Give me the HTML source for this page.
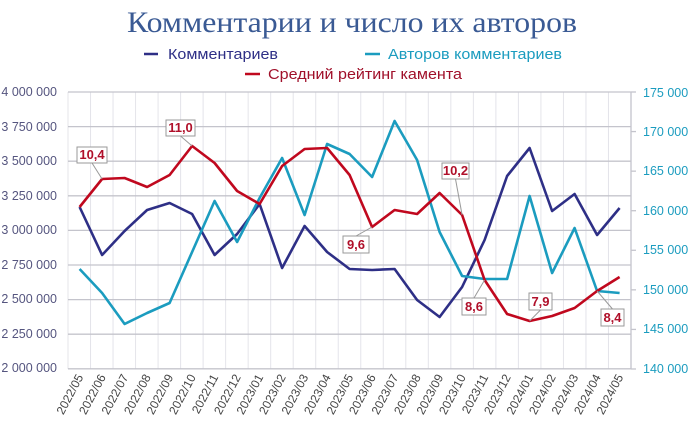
<!DOCTYPE html>
<html><head><meta charset="utf-8"><style>
html,body{margin:0;padding:0;background:#fff;width:700px;height:426px;overflow:hidden}
svg{display:block}
</style></head><body>
<svg id="s" width="700" height="426" xmlns="http://www.w3.org/2000/svg" font-family="'Liberation Sans', sans-serif">
<text x="352" y="32" text-anchor="middle" font-family="'Liberation Serif', serif" font-size="30" fill="#3a5a94" textLength="450" lengthAdjust="spacingAndGlyphs">Комментарии и число их авторов</text>
<line x1="144" y1="54" x2="158" y2="54" stroke="#2e2f86" stroke-width="2.5"/>
<text x="168" y="59" font-size="15" fill="#2e2f86" textLength="110" lengthAdjust="spacingAndGlyphs">Комментариев</text>
<line x1="365" y1="54" x2="380" y2="54" stroke="#1b9cbf" stroke-width="2.5"/>
<text x="388" y="59" font-size="15" fill="#1b9cbf" textLength="174" lengthAdjust="spacingAndGlyphs">Авторов комментариев</text>
<line x1="245" y1="74" x2="260" y2="74" stroke="#c0081e" stroke-width="2.5"/>
<text x="268" y="79" font-size="15" fill="#a0102a" textLength="194" lengthAdjust="spacingAndGlyphs">Средний рейтинг камента</text>
<g id="grid"></g>
<g font-size="12.5" fill="#55557f" text-anchor="end">
<text x="57" y="96">4 000 000</text><text x="57" y="131">3 750 000</text><text x="57" y="165">3 500 000</text><text x="57" y="200">3 250 000</text><text x="57" y="234">3 000 000</text><text x="57" y="269">2 750 000</text><text x="57" y="303">2 500 000</text><text x="57" y="338">2 250 000</text><text x="57" y="372">2 000 000</text>
</g>
<g font-size="12.5" fill="#1b9cbf">
<text x="643" y="97">175 000</text><text x="643" y="136">170 000</text><text x="643" y="175">165 000</text><text x="643" y="215">160 000</text><text x="643" y="254">155 000</text><text x="643" y="294">150 000</text><text x="643" y="333">145 000</text><text x="643" y="373">140 000</text>
</g>
<g id="xl" font-size="12" fill="#444" text-anchor="end"></g>
<g id="lines"></g>
<g id="lab"></g>
</svg>
<script>
var ns="http://www.w3.org/2000/svg",s=document.getElementById('s');
function el(p,t,a,txt){var e=document.createElementNS(ns,t);for(var k in a)e.setAttribute(k,a[k]);if(txt)e.textContent=txt;document.getElementById(p).appendChild(e);return e;}
var L=68,R=631,T=92,B=369;
for(var i=0;i<=25;i++){var x=L+22.52*i;el('grid','line',{x1:x,y1:T,x2:x,y2:B,stroke:'#e4e4ea','stroke-width':1});}
for(var j=0;j<9;j++){var y=T+j*34.6;el('grid','line',{x1:L,y1:y,x2:R,y2:y,stroke:'#c4c4cc','stroke-width':1.3});}
el('grid','line',{x1:R,y1:T,x2:R,y2:B,stroke:'#c4c4cc','stroke-width':1.3});
for(var j=0;j<8;j++){var y=T+j*39.57;el('grid','line',{x1:R,y1:y,x2:R+5,y2:y,stroke:'#c4c4cc','stroke-width':1.3});}
var labs=["2022/05","2022/06","2022/07","2022/08","2022/09","2022/10","2022/11","2022/12","2023/01","2023/02","2023/03","2023/04","2023/05","2023/06","2023/07","2023/08","2023/09","2023/10","2023/11","2023/12","2024/01","2024/02","2024/03","2024/04","2024/05"];
function X(i){return 79.6+22.5*i;}
labs.forEach(function(l,i){var x=X(i)+4,y=377;el('xl','text',{x:x,y:y,transform:'rotate(-62 '+x+' '+y+')'},l);});
var blue=[207,255,231,210,203,214,255,234,204,268,226,252,269,270,269,300,317,287,240,176,148,211,194,235,208];
var cyan=[269,293,324,313,303,252,201,242,198,158,215,144,154,177,121,160,232,276,279,279,196,273,228,291,293];
var red=[207,179,178,187,175,146,163,191,204,166,149,148,175,227,210,214,193,215,280,314,321,316,308,291,277];
function pl(d,c){el('lines','polyline',{points:d.map(function(y,i){return X(i)+','+y}).join(' '),fill:'none',stroke:c,'stroke-width':2.6,'stroke-linejoin':'round'});}
pl(blue,'#2e2f86');pl(cyan,'#1b9cbf');pl(red,'#c0081e');
var boxes=[[1,'10,4',77,147,30,16],[5,'11,0',166,120,29,16],[13,'9,6',343,236,26,17],[17,'10,2',442,163,27,16],[18,'8,6',462,298,24,17],[20,'7,9',529,293,23,17],[23,'8,4',601,309,23,17]];
boxes.forEach(function(b){var px=X(b[0]),py=red[b[0]],bx=b[2],by=b[3],w=b[4],h=b[5];var cx=bx+w/2,cy=by+h/2;var ey=py<cy?by:by+h;
el('lab','line',{x1:cx,y1:ey,x2:px,y2:py,stroke:'#999','stroke-width':1});
el('lab','rect',{x:bx,y:by,width:w,height:h,fill:'#fff',stroke:'#999','stroke-width':1});
el('lab','text',{x:cx,y:by+h-4,'text-anchor':'middle','font-size':13,'font-weight':'bold',fill:'#b0102a'},b[1]);});
</script>
</body></html>
